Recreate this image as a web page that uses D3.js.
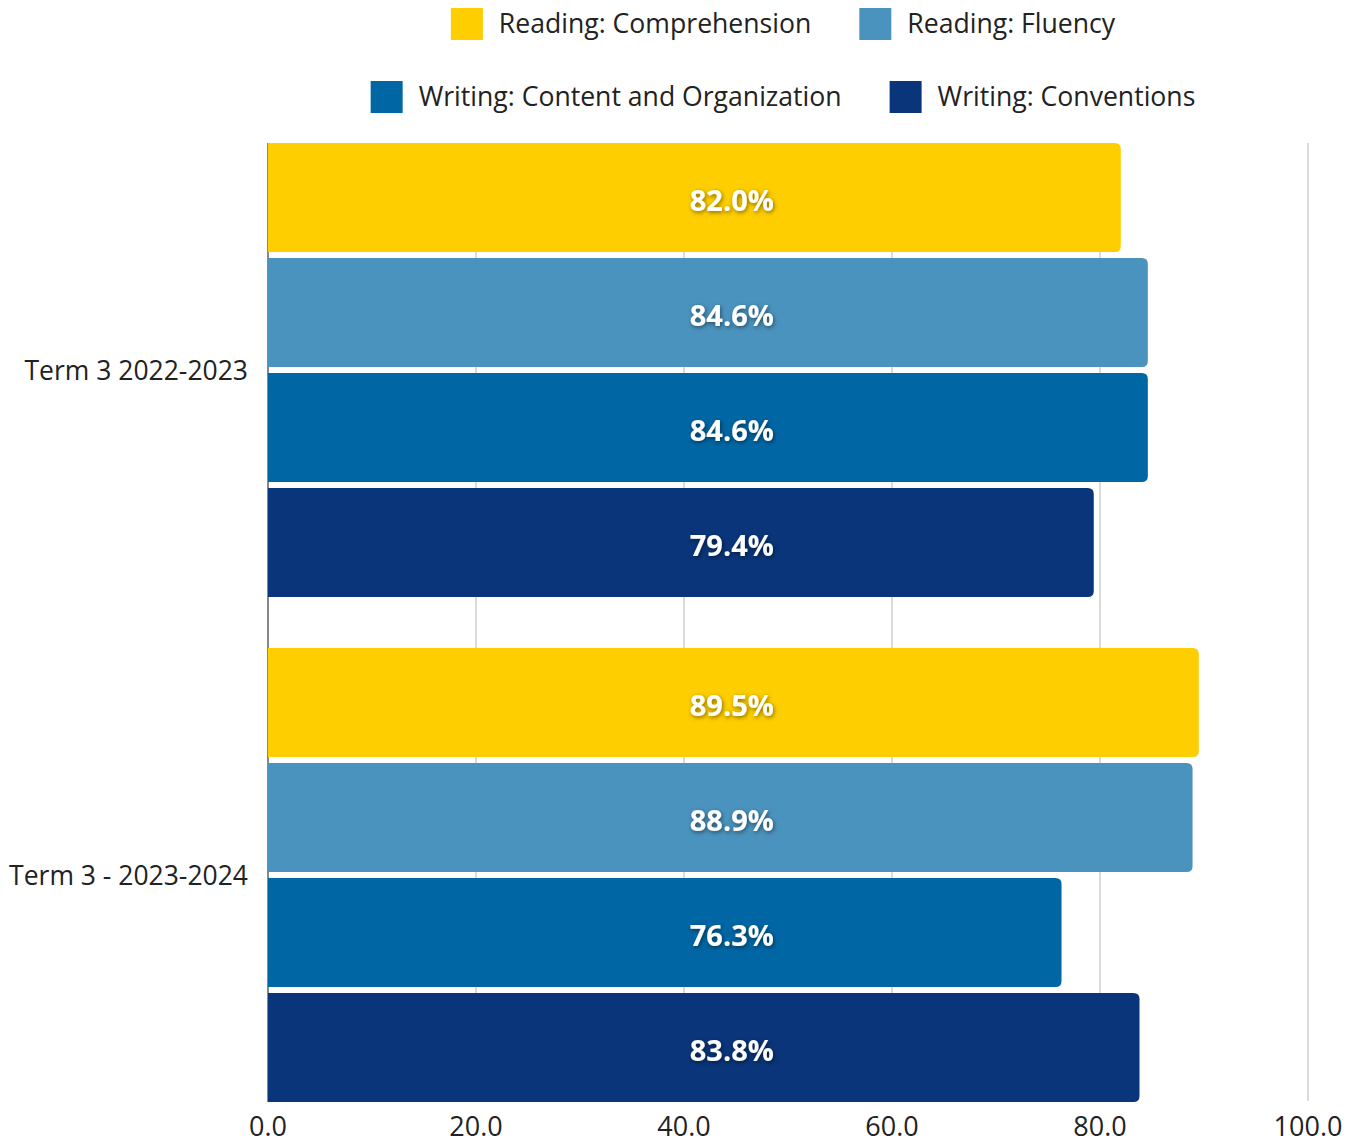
<!DOCTYPE html>
<html>
<head>
<meta charset="utf-8">
<script src="https://cdn.jsdelivr.net/npm/d3@7"></script>
<style>
  html, body { margin: 0; padding: 0; background: #fff; }
  svg { display: block; font-family: "Open Sans", sans-serif; }
</style>
</head>
<body>
<svg id="chart" width="1354" height="1141"></svg>
<script>
// Terms shown on the vertical axis
const terms = ["Term 3 2022-2023", "Term 3 - 2023-2024"];
// Assessment strands (one bar per strand in each term)
const strands = [
  "Reading: Comprehension",
  "Reading: Fluency",
  "Writing: Content and Organization",
  "Writing: Conventions"
];
const strandColors = ["#FFCE00", "#4A93BE", "#0066A4", "#0A357A"];
// Percent of students meeting the standard, per term, in strand order
const term2022 = [82.0, 84.6, 84.6, 79.4];
const term2023 = [89.5, 88.9, 76.3, 83.8];
const xTicks = [0, 20, 40, 60, 80, 100];

(function draw() {
  const values = [term2022, term2023];
  const rows = [];
  terms.forEach((t, i) => strands.forEach((s, j) => rows.push({ term: t, strand: s, idx: j, value: values[i][j] })));

  const svg = d3.select("#chart");
  const plotLeft = 268, plotRight = 1308, plotTop = 143, plotBottom = 1102;

  const x = d3.scaleLinear().domain([0, 100]).range([plotLeft, plotRight]);
  const y0 = d3.scaleBand().domain(terms).range([plotTop, plotBottom]).paddingInner(0.101).paddingOuter(0);
  const y1 = d3.scaleBand().domain(strands).range([0, y0.bandwidth()]).paddingInner(0.052).paddingOuter(0);
  const color = d3.scaleOrdinal().domain(strands).range(strandColors);

  // soft shadow behind the value labels
  const defs = svg.append("defs");
  const f = defs.append("filter").attr("id", "lblShadow").attr("x", "-20%").attr("y", "-40%").attr("width", "140%").attr("height", "180%");
  f.append("feDropShadow").attr("dx", 1).attr("dy", 1.5).attr("stdDeviation", 2)
    .attr("flood-color", "#000").attr("flood-opacity", 0.5);

  // vertical gridlines
  svg.append("g").selectAll("line").data(xTicks.filter(d => d > 0)).join("line")
    .attr("x1", d => x(d)).attr("x2", d => x(d))
    .attr("y1", plotTop).attr("y2", plotBottom - 1)
    .attr("stroke", "#c8c8c8").attr("stroke-width", 1.3);

  // baseline at zero
  svg.append("line")
    .attr("x1", x(0)).attr("x2", x(0)).attr("y1", plotTop).attr("y2", plotBottom)
    .attr("stroke", "#888").attr("stroke-width", 2);

  // bars: square on the left, rounded on the right
  const r = 6;
  function barPath(d) {
    const x0 = x(0), x1 = x(d.value);
    const yTop = y0(d.term) + y1(d.strand), h = y1.bandwidth();
    return `M${x0},${yTop}H${x1 - r}Q${x1},${yTop} ${x1},${yTop + r}V${yTop + h - r}Q${x1},${yTop + h} ${x1 - r},${yTop + h}H${x0}Z`;
  }
  svg.append("g").selectAll("path").data(rows).join("path")
    .attr("d", barPath)
    .attr("fill", d => color(d.strand));

  // value labels
  svg.append("g").selectAll("text").data(rows).join("text")
    .attr("x", x(44.6))
    .attr("y", d => y0(d.term) + y1(d.strand) + y1.bandwidth() / 2 + 2)
    .attr("text-anchor", "middle")
    .attr("dominant-baseline", "central")
    .attr("fill", "#fff")
    .attr("font-weight", 700)
    .attr("font-size", 29)
    .attr("filter", "url(#lblShadow)")
    .text(d => d.value.toFixed(1) + "%");

  // x axis tick labels
  svg.append("g").selectAll("text").data(xTicks).join("text")
    .attr("x", d => x(d))
    .attr("y", 1136)
    .attr("text-anchor", "middle")
    .attr("fill", "#222")
    .attr("font-size", 27)
    .text(d => d.toFixed(1));

  // term labels
  svg.append("g").selectAll("text").data(terms).join("text")
    .attr("x", 248)
    .attr("y", d => y0(d) + y0.bandwidth() / 2)
    .attr("text-anchor", "end")
    .attr("dominant-baseline", "central")
    .attr("fill", "#222")
    .attr("font-size", 26.5)
    .text(d => d);

  // legend: two centered rows of two entries
  const legendRows = [[0, 1], [2, 3]];
  const legendY = [24, 97];
  const sw = 32, gapText = 16, gapItem = 48, legendCenter = 783;
  legendRows.forEach((row, ri) => {
    const g = svg.append("g");
    const items = row.map(i => {
      const ig = g.append("g");
      ig.append("rect").attr("width", sw).attr("height", sw).attr("y", legendY[ri] - sw / 2)
        .attr("fill", strandColors[i]);
      const t = ig.append("text").attr("x", sw + gapText).attr("y", legendY[ri] - 1.5)
        .attr("dominant-baseline", "central").attr("fill", "#222").attr("font-size", 26.6)
        .text(strands[i]);
      return { ig, w: sw + gapText + t.node().getComputedTextLength() };
    });
    const total = d3.sum(items, d => d.w) + gapItem * (items.length - 1);
    let cx = legendCenter - total / 2;
    items.forEach(it => { it.ig.attr("transform", `translate(${cx},0)`); cx += it.w + gapItem; });
  });
})();
</script>
</body>
</html>
